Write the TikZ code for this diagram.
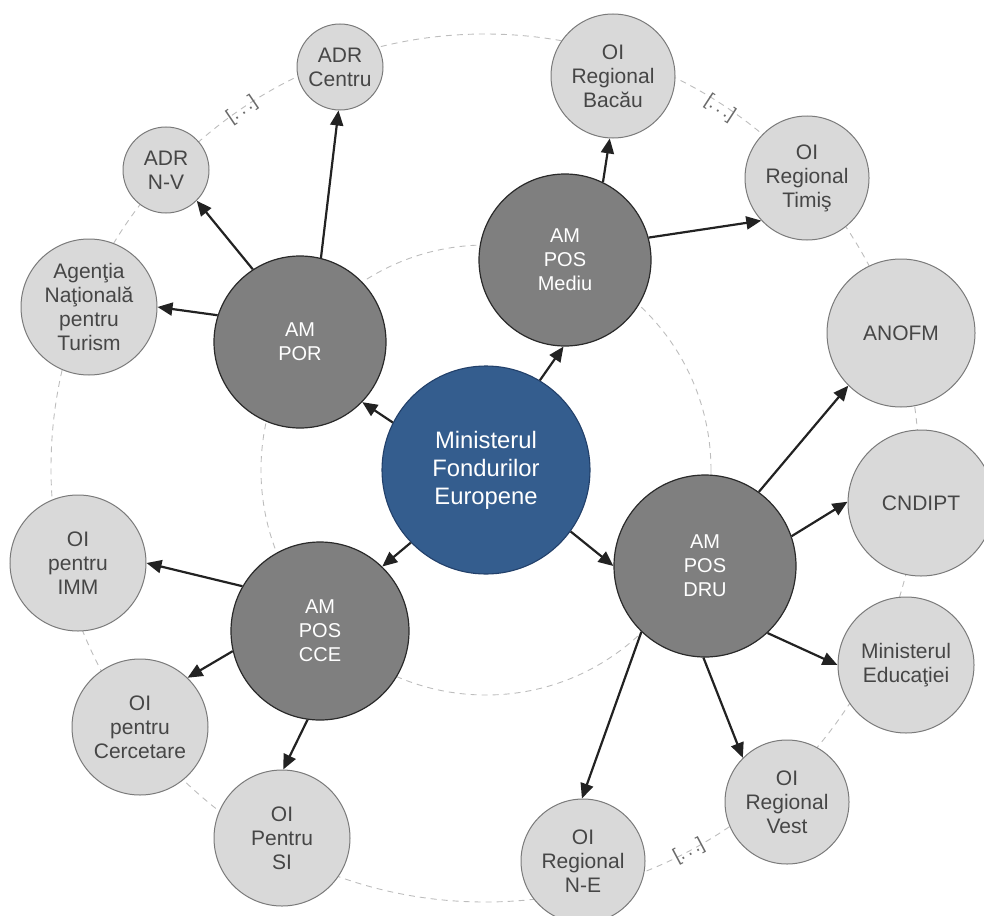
\documentclass[tikz,border=0pt]{standalone}
\usepackage{fontspec}
\setmainfont{Liberation Sans}
\usetikzlibrary{arrows.meta}
\definecolor{mfeblue}{HTML}{345D8E}
\definecolor{hubborder}{HTML}{22406A}
\definecolor{amfill}{HTML}{7F7F7F}
\definecolor{amborder}{HTML}{2A2A2A}
\definecolor{oifill}{HTML}{D9D9D9}
\definecolor{oiborder}{HTML}{7A7A7A}
\definecolor{oitext}{HTML}{464646}
\definecolor{arrowc}{HTML}{222222}
\definecolor{ringc}{HTML}{BDBDBD}
\definecolor{gapc}{HTML}{6A6A6A}
\begin{document}
\begin{tikzpicture}[x=1pt,y=-1pt,
 hub/.style={circle, draw=hubborder, fill=mfeblue, line width=1.1pt, inner sep=0pt, text=white, font=\fontsize{23.8}{28}\selectfont, align=center},
 am/.style={circle, draw=amborder, fill=amfill, line width=1.2pt, inner sep=0pt, text=white, font=\fontsize{20}{24}\selectfont, align=center},
 oi/.style={circle, draw=oiborder, fill=oifill, line width=1pt, inner sep=0pt, text=oitext, font=\fontsize{21}{24}\selectfont, align=center},
 link/.style={draw=arrowc, line width=2.2pt, -{Triangle[length=15pt,width=13pt]}},
 ring/.style={draw=ringc, line width=0.9pt, dash pattern=on 6pt off 5pt},
 gaplabel/.style={text=gapc, font=\fontsize{19}{19}\selectfont, inner sep=0pt}
]
\useasboundingbox (0,0) rectangle (984,915);
% dashed rings
\draw[ring] (485,468) circle[radius=434pt];
\draw[ring] (486,470) circle[radius=225pt];
% gap markers
\node[gaplabel, rotate=34] (g1) at (242,110) {[.\kern3pt.\kern3pt.]};
\node[gaplabel, rotate=-33] (g2) at (720,108) {[.\kern3pt.\kern3pt.]};
\node[gaplabel, rotate=28] (g3) at (689,851) {[.\kern3pt.\kern3pt.]};
% hub
\node[hub, minimum size=208pt] (mfe) at (486,470) {Ministerul\\Fondurilor\\Europene};
% AM nodes
\node[am, minimum size=172pt] (por) at (300,342) {AM\\POR};
\node[am, minimum size=172pt] (mediu) at (565,260) {AM\\POS\\Mediu};
\node[am, minimum size=178pt] (cce) at (320,631) {AM\\POS\\CCE};
\node[am, minimum size=182pt] (dru) at (705,566) {AM\\POS\\DRU};
% OI nodes
\node[oi, minimum size=86pt] (adrc) at (340,67) {ADR\\Centru};
\node[oi, minimum size=86pt] (adrnv) at (166,170) {ADR\\N-V};
\node[oi, minimum size=136pt] (ant) at (89,307) {Agenţia\\Naţională\\pentru\\Turism};
\node[oi, minimum size=124pt] (bacau) at (613,76) {OI\\Regional\\Bacău};
\node[oi, minimum size=124pt] (timis) at (807,178) {OI\\Regional\\Timiş};
\node[oi, minimum size=148pt] (anofm) at (901,333) {ANOFM};
\node[oi, minimum size=146pt] (cndipt) at (921,503) {CNDIPT};
\node[oi, minimum size=136pt] (mined) at (906,665) {Ministerul\\Educaţiei};
\node[oi, minimum size=124pt] (vest) at (787,802) {OI\\Regional\\Vest};
\node[oi, minimum size=124pt] (ne) at (583,861) {OI\\Regional\\N-E};
\node[oi, minimum size=136pt] (imm) at (78,563) {OI\\pentru\\IMM};
\node[oi, minimum size=136pt] (cerc) at (140,727) {OI\\pentru\\Cercetare};
\node[oi, minimum size=136pt] (si) at (282,838) {OI\\Pentru\\SI};
% connectors
\draw[link] (mfe.153) -- (por.-44);
\draw[link] (mfe.59.5) -- (mediu.-91);
\draw[link] (mfe.-36) -- (dru.180);
\draw[link] (mfe.-136.5) -- (cce.46);
\draw[link] (por.123) -- (adrnv.-45);
\draw[link] (por.76) -- (adrc.-92.5);
\draw[link] (por.162.4) -- (ant.0);
\draw[link] (mediu.64.6) -- (bacau.-93);
\draw[link] (mediu.15.3) -- (timis.-137);
\draw[link] (dru.54.8) -- (anofm.-135);
\draw[link] (dru.19.2) -- (cndipt.179);
\draw[link] (dru.-47.2) -- (mined.180);
\draw[link] (dru.-91.2) -- (vest.135);
\draw[link] (dru.-134.6) -- (ne.91);
\draw[link] (cce.150.3) -- (imm.0);
\draw[link] (cce.193) -- (cerc.46.8);
\draw[link] (cce.-98.2) -- (si.89.2);
\end{tikzpicture}
\end{document}
